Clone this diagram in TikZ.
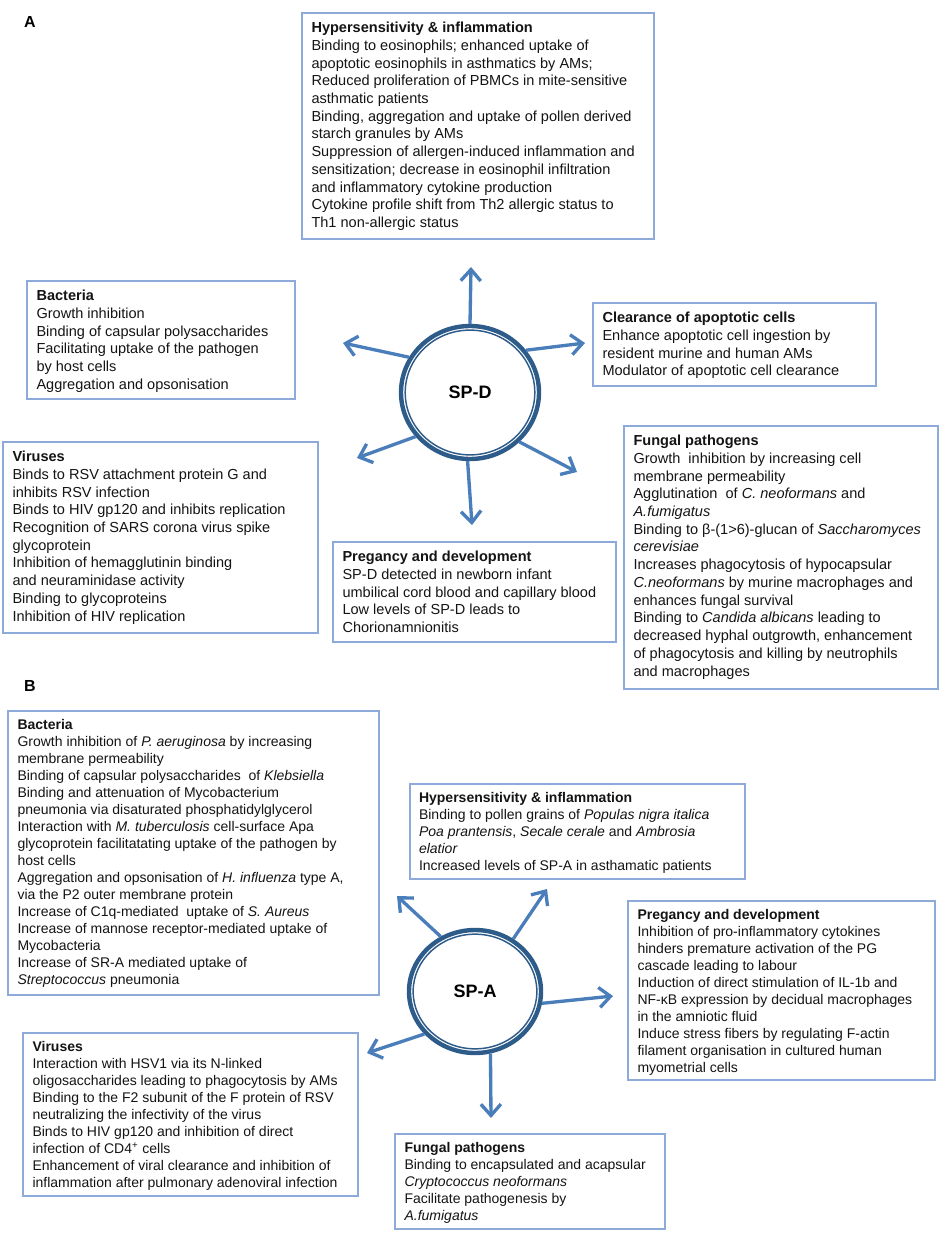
\documentclass[tikz,border=0pt]{standalone}
\usepackage{fontspec}
\setmainfont{Liberation Sans}
\usetikzlibrary{arrows.meta,shapes.geometric,fit}
\definecolor{boxblue}{HTML}{8EAADB}
\definecolor{ringblue}{HTML}{2E5C8A}
\definecolor{arrowblue}{HTML}{4A7EBB}
\definecolor{txtgray}{HTML}{141414}
\begin{document}
\begin{tikzpicture}[x=0.75pt,y=-0.75pt,
  boxst/.style={draw=boxblue, line width=1.1pt, inner sep=0pt},
  txtA/.style={anchor=north west, inner sep=0pt, align=left, text=txtgray, font=\fontsize{10.9}{13.3}\selectfont},
  txtB/.style={anchor=north west, inner sep=0pt, align=left, text=txtgray, font=\fontsize{10.5}{12.75}\selectfont},
  ring/.style={ellipse, draw=ringblue, line width=3.3pt, fill=white, inner sep=0pt, text=black, font=\bfseries\fontsize{13.5}{16}\selectfont},
  innerring/.style={draw=ringblue, line width=1.1pt},
  arr/.style={draw=arrowblue, line width=2.5pt, -{Straight Barb[length=8.5pt,width=15pt]}},
  panel/.style={inner sep=0pt, font=\bfseries\fontsize{12}{14}\selectfont}
]
\fill[white] (0,0) rectangle (945,1237);
\useasboundingbox (0,0) rectangle (945,1237);

% ---------- Panel A ----------
\node[panel] (labA) at (30,22) {A};

\node[boxst, fit={(302,13) (654,239)}] (hypD) {};
\node[txtA] (hypDt) at ([shift={(10,9.5)}]hypD.north west) {\textbf{Hypersensitivity \& inflammation}\\
Binding to eosinophils; enhanced uptake of\\
apoptotic eosinophils in asthmatics by AMs;\\
Reduced proliferation of PBMCs in mite-sensitive\\
asthmatic patients\\
Binding, aggregation and uptake of pollen derived\\
starch granules by AMs\\
Suppression of allergen-induced inflammation and\\
sensitization; decrease in eosinophil infiltration\\
and inflammatory cytokine production\\
Cytokine profile shift from Th2 allergic status to\\
Th1 non-allergic status};

\node[boxst, fit={(27,281) (295,399)}] (bacD) {};
\node[txtA] (bacDt) at ([shift={(10,9.5)}]bacD.north west) {\textbf{Bacteria}\\
Growth inhibition\\
Binding of capsular polysaccharides\\
Facilitating uptake of the pathogen\\
by host cells\\
Aggregation and opsonisation};

\node[boxst, fit={(3,442) (318,633)}] (virD) {};
\node[txtA] (virDt) at ([shift={(10,9.5)}]virD.north west) {\textbf{Viruses}\\
Binds to RSV attachment protein G and\\
inhibits RSV infection\\
Binds to HIV gp120 and inhibits replication\\
Recognition of SARS corona virus spike\\
glycoprotein\\
Inhibition of hemagglutinin binding\\
and neuraminidase activity\\
Binding to glycoproteins\\
Inhibition of HIV replication};

\node[boxst, fit={(593,303) (876,386)}] (clrD) {};
\node[txtA] (clrDt) at ([shift={(10,9.5)}]clrD.north west) {\textbf{Clearance of apoptotic cells}\\
Enhance apoptotic cell ingestion by\\
resident murine and human AMs\\
Modulator of apoptotic cell clearance};

\node[boxst, fit={(624,426) (938,689)}] (funD) {};
\node[txtA] (funDt) at ([shift={(10,9.5)}]funD.north west) {\textbf{Fungal pathogens}\\
Growth\ \ inhibition by increasing cell\\
membrane permeability\\
Agglutination\ \ of \textit{C. neoformans} and\\
\textit{A.fumigatus}\\
Binding to β-(1>6)-glucan of \textit{Saccharomyces}\\
\textit{cerevisiae}\\
Increases phagocytosis of hypocapsular\\
\textit{C.neoformans} by murine macrophages and\\
enhances fungal survival\\
Binding to \textit{Candida albicans} leading to\\
decreased hyphal outgrowth, enhancement\\
of phagocytosis and killing by neutrophils\\
and macrophages};

\node[boxst, fit={(333,542) (616,642)}] (preD) {};
\node[txtA] (preDt) at ([shift={(10,9.5)}]preD.north west) {\textbf{Pregancy and development}\\
SP-D detected in newborn infant\\
umbilical cord blood and capillary blood\\
Low levels of SP-D leads to\\
Chorionamnionitis};

% SP-D hub
\node[ring, minimum width=103.5pt, minimum height=99.75pt] (spd) at (470,392.5) {SP-D};
\draw[innerring] (spd.center) ellipse [x radius=48.6pt, y radius=46.8pt];

\coordinate (dU)  at (471,267);
\coordinate (dUL) at (343,343);
\coordinate (dUR) at (585,343);
\coordinate (dLL) at (357,458);
\coordinate (dLR) at (577,472);
\coordinate (dD)  at (472,525);
\draw[arr] (spd.90)  -- (dU);
\draw[arr] (spd.150) -- (dUL);
\draw[arr] (spd.37)  -- (dUR);
\draw[arr] (spd.219) -- (dLL);
\draw[arr] (spd.315) -- (dLR);
\draw[arr] (spd.268) -- (dD);

% ---------- Panel B ----------
\node[panel] (labB) at (30,686) {B};

\node[boxst, fit={(8,711) (379,995)}] (bacA) {};
\node[txtB] (bacAt) at ([shift={(10,9)}]bacA.north west) {\textbf{Bacteria}\\
Growth inhibition of \textit{P. aeruginosa} by increasing\\
membrane permeability\\
Binding of capsular polysaccharides\ \ of \textit{Klebsiella}\\
Binding and attenuation of Mycobacterium\\
pneumonia via disaturated phosphatidylglycerol\\
Interaction with \textit{M. tuberculosis} cell-surface Apa\\
glycoprotein facilitatating uptake of the pathogen by\\
host cells\\
Aggregation and opsonisation of \textit{H. influenza} type A,\\
via the P2 outer membrane protein\\
Increase of C1q-mediated\ \ uptake of \textit{S. Aureus}\\
Increase of mannose receptor-mediated uptake of\\
Mycobacteria\\
Increase of SR-A mediated uptake of\\
\textit{Streptococcus} pneumonia};

\node[boxst, fit={(410,784) (745,879)}] (hypA) {};
\node[txtB] (hypAt) at ([shift={(9.5,9)}]hypA.north west) {\textbf{Hypersensitivity \& inflammation}\\
Binding to pollen grains of \textit{Populas nigra italica}\\
\textit{Poa prantensis}, \textit{Secale cerale} and \textit{Ambrosia}\\
\textit{elatior}\\
Increased levels of SP-A in asthamatic patients};

\node[boxst, fit={(628,901) (935,1080)}] (preA) {};
\node[txtB] (preAt) at ([shift={(10,9)}]preA.north west) {\textbf{Pregancy and development}\\
Inhibition of pro-inflammatory cytokines\\
hinders premature activation of the PG\\
cascade leading to labour\\
Induction of direct stimulation of IL-1b and\\
NF-κB expression by decidual macrophages\\
in the amniotic fluid\\
Induce stress fibers by regulating F-actin\\
filament organisation in cultured human\\
myometrial cells};

\node[boxst, fit={(23,1033) (358,1196)}] (virA) {};
\node[txtB] (virAt) at ([shift={(10,9)}]virA.north west) {\textbf{Viruses}\\
Interaction with HSV1 via its N-linked\\
oligosaccharides leading to phagocytosis by AMs\\
Binding to the F2 subunit of the F protein of RSV\\
neutralizing the infectivity of the virus\\
Binds to HIV gp120 and inhibition of direct\\
infection of CD4\textsuperscript{+} cells\\
Enhancement of viral clearance and inhibition of\\
inflammation after pulmonary adenoviral infection};

\node[boxst, fit={(395,1134) (665,1229)}] (funA) {};
\node[txtB] (funAt) at ([shift={(10,9)}]funA.north west) {\textbf{Fungal pathogens}\\
Binding to encapsulated and acapsular\\
\textit{Cryptococcus neoformans}\\
Facilitate pathogenesis by\\
\textit{A.fumigatus}};

% SP-A hub
\node[ring, minimum width=99pt, minimum height=92.25pt] (spa) at (475,991.5) {SP-A};
\draw[innerring] (spa.center) ellipse [x radius=46.4pt, y radius=43pt];

\coordinate (aUL) at (397,896);
\coordinate (aUR) at (547,889);
\coordinate (aR)  at (613,996);
\coordinate (aLL) at (367,1053);
\coordinate (aD)  at (491,1118);
\draw[arr] (spa.122) -- (aUL);
\draw[arr] (spa.54)  -- (aUR);
\draw[arr] (spa.350) -- (aR);
\draw[arr] (spa.220) -- (aLL);
\draw[arr] (spa.284) -- (aD);
\end{tikzpicture}
\end{document}
